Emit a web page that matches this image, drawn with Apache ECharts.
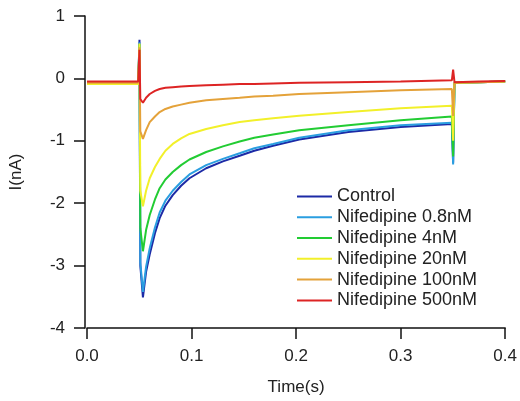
<!DOCTYPE html>
<html><head><meta charset="utf-8">
<script src="https://cdn.jsdelivr.net/npm/echarts@6/dist/echarts.min.js"></script>
<style>html,body{margin:0;padding:0;background:#fff}#c{width:520px;height:401px}</style>
</head><body><div id="c"></div>
<script>
var time    = [0, 0.049, 0.0502, 0.051, 0.0535, 0.0565, 0.060, 0.065, 0.0695, 0.075, 0.082, 0.090, 0.098, 0.114, 0.130, 0.146, 0.160, 0.178, 0.203, 0.25, 0.30, 0.349, 0.3502, 0.3515, 0.375, 0.4];
var control = [-0.08,-0.08,0.62,-3.0,-3.51,-3.10,-2.82,-2.48,-2.24,-2.04,-1.87,-1.72,-1.60,-1.44,-1.33,-1.24,-1.16,-1.08,-0.98,-0.86,-0.78,-0.73,-1.35,-0.07,-0.06,-0.05];
var nif08   = [-0.08,-0.08,0.58,-2.95,-3.42,-3.02,-2.72,-2.39,-2.15,-1.96,-1.80,-1.66,-1.54,-1.39,-1.29,-1.20,-1.12,-1.05,-0.95,-0.83,-0.75,-0.71,-1.38,-0.07,-0.06,-0.05];
var nif4    = [-0.08,-0.08,0.55,-2.4,-2.77,-2.43,-2.19,-1.94,-1.76,-1.62,-1.50,-1.39,-1.30,-1.18,-1.09,-1.01,-0.95,-0.90,-0.83,-0.75,-0.67,-0.61,-1.25,-0.07,-0.06,-0.05];
var nif20   = [-0.09,-0.09,0.56,-1.8,-2.05,-1.80,-1.60,-1.42,-1.29,-1.16,-1.05,-0.96,-0.89,-0.81,-0.75,-0.70,-0.67,-0.64,-0.60,-0.54,-0.48,-0.44,-1.0,-0.07,-0.06,-0.05];
var nif100  = [-0.07,-0.07,0.50,-0.85,-0.97,-0.83,-0.70,-0.61,-0.54,-0.49,-0.45,-0.42,-0.39,-0.35,-0.33,-0.31,-0.29,-0.28,-0.25,-0.22,-0.19,-0.17,-0.6,-0.07,-0.06,-0.05];
var nif500  = [-0.05,-0.05,0.46,-0.33,-0.39,-0.31,-0.25,-0.20,-0.17,-0.15,-0.14,-0.13,-0.12,-0.11,-0.10,-0.09,-0.09,-0.08,-0.07,-0.06,-0.05,-0.03,0.14,-0.06,-0.05,-0.04];
var names   = ['Control','Nifedipine 0.8nM','Nifedipine 4nM','Nifedipine 20nM','Nifedipine 100nM','Nifedipine 500nM'];
var colors  = ['#1c2aa6','#2a9ee0','#22cc33','#f2f02a','#e4a23a','#dd2424'];
var values  = [control, nif08, nif4, nif20, nif100, nif500];

function pairs(v){ return time.map(function(t,i){ return [t, v[i]]; }); }
var font = 'Liberation Sans, Arial, sans-serif';
var chart = echarts.init(document.getElementById('c'), null, {renderer:'canvas'});
chart.setOption({
  animation:false,
  backgroundColor:'#fff',
  grid:{left:87, right:13, top:16, bottom:68},
  legend:{
    left:292, top:181, orient:'vertical', itemGap:0, itemWidth:35, itemHeight:2, icon:'rect',
    textStyle:{fontFamily:font, fontSize:18, color:'#222', lineHeight:20.8},
    data:names
  },
  xAxis:{
    type:'value', min:0, max:0.4, interval:0.1,
    name:'Time(s)', nameLocation:'middle', nameGap:51,
    nameTextStyle:{fontFamily:font, fontSize:17, color:'#222'},
    axisLine:{onZero:false, lineStyle:{color:'#111', width:1.5}},
    axisTick:{show:true, length:11, lineStyle:{color:'#111', width:1.5}},
    axisLabel:{fontFamily:font, fontSize:17, color:'#222', margin:20, formatter:function(v){return v.toFixed(1);}},
    splitLine:{show:false}
  },
  yAxis:{
    type:'value', min:-4, max:1, interval:1, offset:2,
    name:'I(nA)', nameLocation:'middle', nameGap:60,
    nameTextStyle:{fontFamily:font, fontSize:17, color:'#222'},
    axisLine:{show:true, onZero:false, lineStyle:{color:'#111', width:1.5}},
    axisTick:{show:true, length:11, lineStyle:{color:'#111', width:1.5}},
    axisLabel:{fontFamily:font, fontSize:17, color:'#222', margin:20},
    splitLine:{show:false}
  },
  series: values.map(function(v,i){
    return {name:names[i], type:'line', data:pairs(v), showSymbol:false, symbol:'none',
      color:colors[i], lineStyle:{color:colors[i], width:2}, smooth:false};
  })
});
</script>
</body></html>
